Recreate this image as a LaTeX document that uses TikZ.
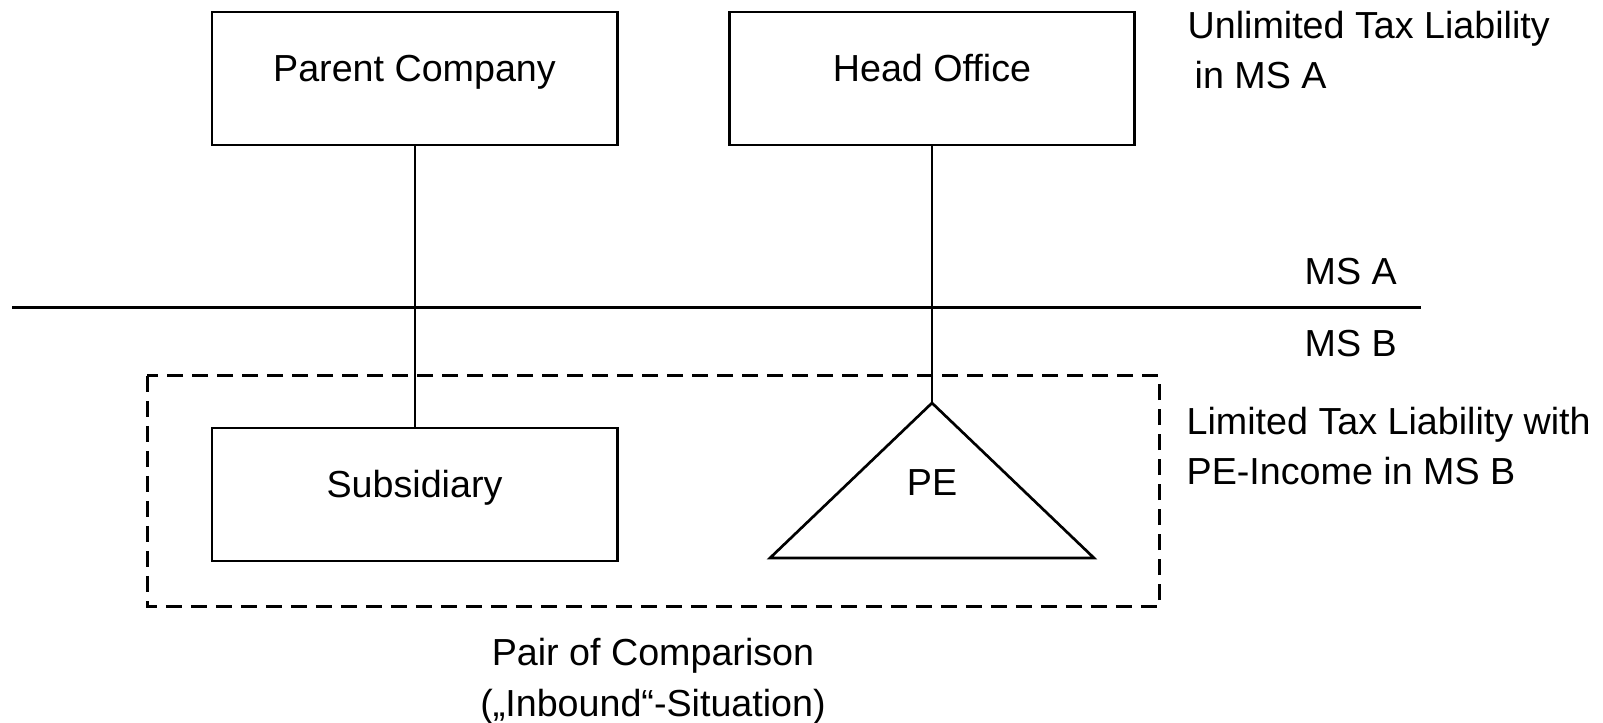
\documentclass[tikz,border=0pt]{standalone}
\usepackage{fontspec}
\setmainfont{Liberation Sans}

\tikzset{
  unitbox/.style={draw, line width=0.8pt, minimum width=121.6pt, minimum height=39.9pt,
    text height=8pt, text depth=5.9pt, inner sep=0pt},
  link/.style={line width=0.6pt},
  note/.style={anchor=base west, inner sep=0pt},
  caption/.style={anchor=base, inner sep=0pt},
  pairframe/.style={line width=0.9pt, dash pattern=on 4.8pt off 2.7pt}
}

\begin{document}
\begin{tikzpicture}[x=0.3pt, y=-0.3pt, font=\fontsize{11.3pt}{14pt}\selectfont]
  \useasboundingbox (0,0) rectangle (1603,723);
  % MS A side
  \node[unitbox] (parent) at (414.5,78.5) {Parent Company};
  \node[unitbox] (head) at (932,78.5) {Head Office};
  \node[note] (unlimA) at (1187,39) {Unlimited Tax Liability};
  \node[note] (unlimB) at (1194,89) {in MS A};
  % border between the states
  \draw[line width=0.9pt] (12,308) -- (1421,308);
  \node[note] (msA) at (1304,285) {MS A};
  \node[note] (msB) at (1304,357) {MS B};
  % MS B side
  \draw[pairframe] (147,376) rectangle (1159,607);
  \node[unitbox] (sub) at (414.5,494.5) {Subsidiary};
  \coordinate (peTop) at (932,403);
  \coordinate (peLeft) at (770,558);
  \coordinate (peRight) at (1094,558);
  \draw[line width=0.8pt] (peTop) -- (peLeft) -- (peRight) -- cycle;
  \node[caption] (pe) at (932,496) {PE};
  \node[note] (limA) at (1186,435) {Limited Tax Liability with};
  \node[note] (limB) at (1186,485) {PE-Income in MS B};
  % links
  \draw[link] (parent) -- (sub);
  \draw[link] (head) -- (peTop);
  \node[caption] (pairA) at (653,666) {Pair of Comparison};
  \node[caption] (pairB) at (653,717) {(„Inbound“-Situation)};
\end{tikzpicture}
\end{document}
